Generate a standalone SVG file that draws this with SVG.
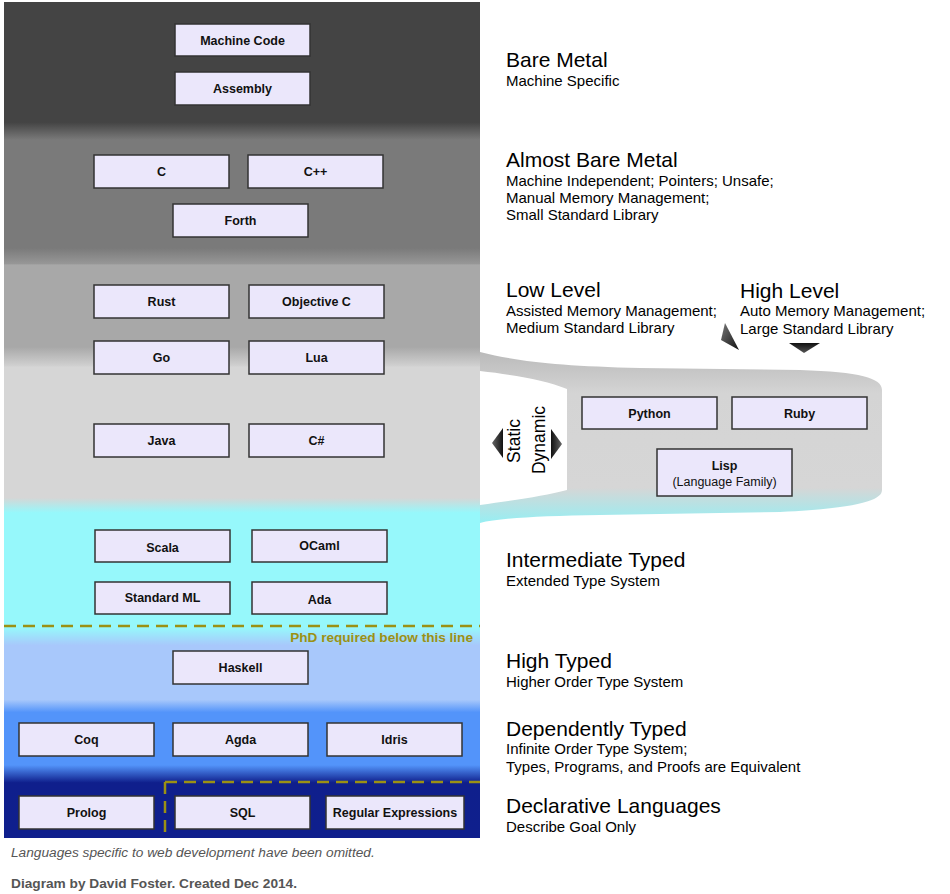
<svg xmlns="http://www.w3.org/2000/svg" width="950" height="894" viewBox="0 0 950 894">
<defs>
<linearGradient id="col" gradientUnits="userSpaceOnUse" x1="0" y1="0" x2="0" y2="838">
<stop offset="0" stop-color="#444444"/>
<stop offset="0.146" stop-color="#444444"/>
<stop offset="0.167" stop-color="#7a7a7a"/>
<stop offset="0.296" stop-color="#7a7a7a"/>
<stop offset="0.315" stop-color="#979797"/>
<stop offset="0.316" stop-color="#a8a8a8"/>
<stop offset="0.414" stop-color="#a8a8a8"/>
<stop offset="0.436" stop-color="#cfcfcf"/>
<stop offset="0.438" stop-color="#d6d6d6"/>
<stop offset="0.594" stop-color="#d6d6d6"/>
<stop offset="0.612" stop-color="#96f8fb"/>
<stop offset="0.749" stop-color="#96f8fb"/>
<stop offset="0.770" stop-color="#a8c8fb"/>
<stop offset="0.835" stop-color="#a8c8fb"/>
<stop offset="0.850" stop-color="#5394fa"/>
<stop offset="0.913" stop-color="#5394fa"/>
<stop offset="0.934" stop-color="#0f1f8c"/>
<stop offset="1" stop-color="#0f1f8d"/>
</linearGradient>
<linearGradient id="branch" gradientUnits="userSpaceOnUse" x1="0" y1="350" x2="0" y2="522">
<stop offset="0" stop-color="#b9b9b9"/>
<stop offset="0.25" stop-color="#d4d4d4"/>
<stop offset="0.8" stop-color="#d6d6d6"/>
<stop offset="1" stop-color="#98eef2"/>
</linearGradient>
<linearGradient id="tri" x1="0" y1="0" x2="1" y2="1">
<stop offset="0" stop-color="#777777"/>
<stop offset="1" stop-color="#111111"/>
</linearGradient>
<linearGradient id="triH" x1="0" y1="0" x2="1" y2="0">
<stop offset="0" stop-color="#666666"/>
<stop offset="1" stop-color="#111111"/>
</linearGradient>
<linearGradient id="triHr" x1="1" y1="0" x2="0" y2="0">
<stop offset="0" stop-color="#666666"/>
<stop offset="1" stop-color="#111111"/>
</linearGradient>
<linearGradient id="triV" x1="0" y1="0" x2="0" y2="1">
<stop offset="0" stop-color="#111111"/>
<stop offset="1" stop-color="#555555"/>
</linearGradient>
<style>
.box{fill:#ebe7fb;stroke:#333333;stroke-width:1.5}
.bl{font-family:"Liberation Sans",Arial,sans-serif;font-size:12.5px;font-weight:bold;fill:#111111;text-anchor:middle}
.sm{font-family:"Liberation Sans",Arial,sans-serif;font-size:12.5px;fill:#111111;text-anchor:middle}
.h{font-family:"Liberation Sans",Arial,sans-serif;font-size:21px;fill:#000000}
.s{font-family:"Liberation Sans",Arial,sans-serif;font-size:15px;fill:#000000}
.dash{stroke:#9b9114;stroke-width:2.5;stroke-dasharray:12 7;fill:none}
</style>
</defs>
<rect width="950" height="894" fill="#ffffff"/>
<g id="background">
<rect x="4" y="2" width="476" height="836" fill="url(#col)"/>
<path d="M480,352 C520,362 560,366 640,368 L800,370 C860,372 882,378 882,390 L882,490 C882,500 860,508 780,512 L600,515 C540,516 500,518 480,523 Z" fill="url(#branch)"/>
<path d="M480,371 C515,375 545,380 567,389 L567,490 C545,496 515,500 480,505 Z" fill="#ffffff"/>
</g>
<g id="dividers">
<line class="dash" x1="4" y1="626" x2="480" y2="626"/>
<line class="dash" x1="165" y1="782" x2="480" y2="782"/>
<line class="dash" x1="165" y1="782" x2="165" y2="838"/>
<text x="473" y="642" font-family="'Liberation Sans',Arial,sans-serif" font-size="13.6" font-weight="bold" fill="#9b9114" text-anchor="end">PhD required below this line</text>
</g>
<g id="connectors">
<polygon points="492,443 503,428 503,458" fill="url(#triH)"/>
<polygon points="562,444 551,429 551,459" fill="url(#triHr)"/>
<polygon points="725,323 721,340 739,350" fill="url(#tri)"/>
<polygon points="789,343 820,343 804,353" fill="url(#triV)"/>
<text transform="translate(520,441) rotate(-90)" font-family="'Liberation Sans',Arial,sans-serif" font-size="17.5" fill="#000" text-anchor="middle">Static</text>
<text transform="translate(545,440) rotate(-90)" font-family="'Liberation Sans',Arial,sans-serif" font-size="17.5" fill="#000" text-anchor="middle">Dynamic</text>
</g>
<g id="n-machine-code"><rect class="box" x="175" y="24" width="135" height="32"/><text class="bl" x="242.5" y="44.5">Machine Code</text></g>
<g id="n-assembly"><rect class="box" x="175" y="72" width="135" height="33"/><text class="bl" x="242.5" y="93">Assembly</text></g>
<g id="n-c"><rect class="box" x="94" y="155" width="135" height="33"/><text class="bl" x="161.5" y="176">C</text></g>
<g id="n-cpp"><rect class="box" x="248" y="155" width="135" height="33"/><text class="bl" x="315.5" y="176">C++</text></g>
<g id="n-forth"><rect class="box" x="173" y="204" width="135" height="33"/><text class="bl" x="240.5" y="225">Forth</text></g>
<g id="n-rust"><rect class="box" x="94" y="285" width="135" height="33"/><text class="bl" x="161.5" y="306">Rust</text></g>
<g id="n-objc"><rect class="box" x="249" y="285" width="135" height="33"/><text class="bl" x="316.5" y="306">Objective C</text></g>
<g id="n-go"><rect class="box" x="94" y="341" width="135" height="33"/><text class="bl" x="161.5" y="362">Go</text></g>
<g id="n-lua"><rect class="box" x="249" y="341" width="135" height="33"/><text class="bl" x="316.5" y="362">Lua</text></g>
<g id="n-java"><rect class="box" x="94" y="424" width="135" height="33"/><text class="bl" x="161.5" y="445">Java</text></g>
<g id="n-csharp"><rect class="box" x="249" y="424" width="135" height="33"/><text class="bl" x="316.5" y="445">C#</text></g>
<g id="n-python"><rect class="box" x="582" y="397" width="135" height="32"/><text class="bl" x="649.5" y="417.5">Python</text></g>
<g id="n-ruby"><rect class="box" x="732" y="397" width="135" height="32"/><text class="bl" x="799.5" y="417.5">Ruby</text></g>
<g id="n-lisp"><rect class="box" x="657" y="449" width="135" height="47"/><text class="bl" x="724.5" y="470">Lisp</text><text class="sm" x="724.5" y="486">(Language Family)</text></g>
<g id="n-scala"><rect class="box" x="95" y="530" width="135" height="32"/><text class="bl" x="162.5" y="551.5">Scala</text></g>
<g id="n-ocaml"><rect class="box" x="252" y="530" width="135" height="32"/><text class="bl" x="319.5" y="550">OCaml</text></g>
<g id="n-sml"><rect class="box" x="95" y="582" width="135" height="32"/><text class="bl" x="162.5" y="602">Standard ML</text></g>
<g id="n-ada"><rect class="box" x="252" y="582" width="135" height="32"/><text class="bl" x="319.5" y="603.5">Ada</text></g>
<g id="n-haskell"><rect class="box" x="173" y="651" width="135" height="33"/><text class="bl" x="240.5" y="672">Haskell</text></g>
<g id="n-coq"><rect class="box" x="19" y="723" width="135" height="33"/><text class="bl" x="86.5" y="744">Coq</text></g>
<g id="n-agda"><rect class="box" x="173" y="723" width="135" height="33"/><text class="bl" x="240.5" y="744">Agda</text></g>
<g id="n-idris"><rect class="box" x="327" y="723" width="135" height="33"/><text class="bl" x="394.5" y="744">Idris</text></g>
<g id="n-prolog"><rect class="box" x="19" y="796" width="135" height="33"/><text class="bl" x="86.5" y="817">Prolog</text></g>
<g id="n-sql"><rect class="box" x="175" y="796" width="135" height="33"/><text class="bl" x="242.5" y="817">SQL</text></g>
<g id="n-regex"><rect class="box" x="326" y="796" width="138" height="33"/><text class="bl" x="395" y="817">Regular Expressions</text></g>
<g id="labels">
<text class="h" x="506" y="67">Bare Metal</text>
<text class="s" x="506" y="86">Machine Specific</text>
<text class="h" x="506" y="167">Almost Bare Metal</text>
<text class="s" x="506" y="186">Machine Independent; Pointers; Unsafe;</text>
<text class="s" x="506" y="203">Manual Memory Management;</text>
<text class="s" x="506" y="220">Small Standard Library</text>
<text class="h" x="506" y="297">Low Level</text>
<text class="s" x="506" y="316">Assisted Memory Management;</text>
<text class="s" x="506" y="333">Medium Standard Library</text>
<text class="h" x="740" y="298">High Level</text>
<text class="s" x="740" y="316">Auto Memory Management;</text>
<text class="s" x="740" y="334">Large Standard Library</text>
<text class="h" x="506" y="567">Intermediate Typed</text>
<text class="s" x="506" y="586">Extended Type System</text>
<text class="h" x="506" y="668">High Typed</text>
<text class="s" x="506" y="687">Higher Order Type System</text>
<text class="h" x="506" y="736">Dependently Typed</text>
<text class="s" x="506" y="754">Infinite Order Type System;</text>
<text class="s" x="506" y="772">Types, Programs, and Proofs are Equivalent</text>
<text class="h" x="506" y="813">Declarative Languages</text>
<text class="s" x="506" y="832">Describe Goal Only</text>
<text x="11" y="857" font-family="'Liberation Sans',Arial,sans-serif" font-size="13.7" font-style="italic" fill="#555555">Languages specific to web development have been omitted.</text>
<text x="11" y="888" font-family="'Liberation Sans',Arial,sans-serif" font-size="13.7" font-weight="bold" fill="#555555">Diagram by David Foster. Created Dec 2014.</text>
</g>
</svg>
